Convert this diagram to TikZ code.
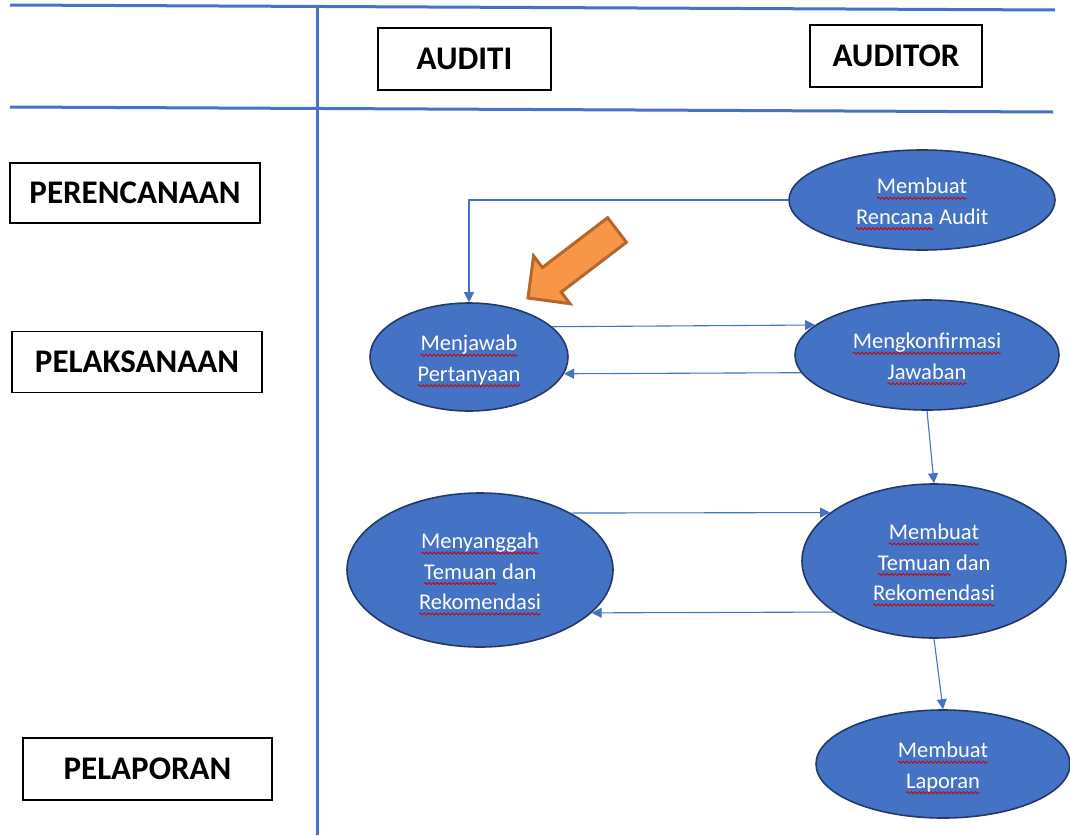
\documentclass[tikz,border=0pt]{standalone}
\usepackage{fontspec}
\setmainfont{Carlito}
\usetikzlibrary{shapes.geometric,arrows.meta,decorations.pathmorphing}
\definecolor{blu}{HTML}{4472C4}
\definecolor{blb}{HTML}{22396A}
\definecolor{org}{HTML}{F79646}
\definecolor{orb}{HTML}{B6652B}
\tikzset{sqword/.style={shape=rectangle, draw=none, fill=none, minimum width=0pt, minimum height=0pt, inner sep=0pt, outer sep=0pt, align=left, text=white}}
\newcommand\sq[1]{\tikz[baseline=(w.base), x=1pt, y=1pt]{\node[sqword] (w) {#1};
  \draw[red!80!black, line width=0.8pt, decorate, decoration={snake, amplitude=1.1pt, segment length=4pt}] ([yshift=-4.5pt]w.base west) -- ([yshift=-4.5pt]w.base east);}}
\begin{document}
\begin{tikzpicture}[x=1pt,y=-1pt,
 hdr/.style={draw=black, line width=1.2pt, fill=white, inner sep=0pt, font=\fontsize{33}{38}\selectfont\bfseries},
 proc/.style={ellipse, draw=blb, line width=1.6pt, fill=blu, inner sep=0pt, text=white, align=center, font=\fontsize{22.5}{30.5}\selectfont},
 grid/.style={blu, line width=3pt},
 conn/.style={blu, line width=1.1pt, -{Triangle[length=10pt,width=10pt]}}]
\useasboundingbox (0,0) rectangle (1070,835);
% grid lines
\draw[grid] (10,5) -- (1055,10);
\draw[grid] (10,107) -- (1053,112);
\draw[grid] (317,5) -- (317,835);
% header boxes
\node[hdr, minimum width=173pt, minimum height=62pt] (auditi) at (464.5,59) {AUDITI};
\node[hdr, minimum width=172pt, minimum height=62pt] (auditor) at (896,56) {AUDITOR};
\node[hdr, minimum width=250pt, minimum height=60pt] (per) at (135,193) {PERENCANAAN};
\node[hdr, minimum width=250pt, minimum height=61pt] (pel) at (137,362) {PELAKSANAAN};
\node[hdr, minimum width=249pt, minimum height=62pt] (lap) at (147.5,769) {PELAPORAN};
% process ellipses
\node[proc, minimum width=266pt, minimum height=100pt] (rencana) at (922,200) {\rule{0pt}{24pt}\sq{Membuat}\\\sq{Rencana} Audit};
\node[proc, minimum width=198pt, minimum height=108pt] (menjawab) at (469,357) {\rule{0pt}{24pt}\sq{Menjawab}\\\sq{Pertanyaan}};
\node[proc, minimum width=264pt, minimum height=110pt] (konf) at (927,355) {\rule{0pt}{24pt}\sq{Mengkonfirmasi}\\\sq{Jawaban}};
\node[proc, minimum width=266pt, minimum height=154pt] (sanggah) at (480,570) {\rule{0pt}{24pt}\sq{Menyanggah}\\\sq{Temuan} dan\\\sq{Rekomendasi}};
\node[proc, minimum width=264pt, minimum height=154pt] (temuan) at (934,561) {\rule{0pt}{24pt}\sq{Membuat}\\\sq{Temuan} dan\\\sq{Rekomendasi}};
\node[proc, minimum width=254pt, minimum height=108pt] (laporan) at (943,764) {\rule{0pt}{24pt}\sq{Membuat}\\\sq{Laporan}};
% connectors
\draw[conn] (rencana.west) -| (menjawab.north);
\draw[conn] (menjawab.20) -- (konf.165.5);
\draw[conn] (konf.188.9) -- (menjawab.350.5);
\draw[conn] (konf.south) -- (temuan.north);
\draw[conn] (sanggah.32.9) -- (temuan.155.2);
\draw[conn] (temuan.207.4) -- (sanggah.339.2);
\draw[conn] (temuan.south) -- (laporan.north);
% orange block arrow
\draw[fill=org, draw=orb, line width=3pt, line join=miter]
  (607.6,217.7) -- (542.4,267.5) -- (533.6,255.9) -- (528,298) -- (570,303.7) -- (561.2,292.1) -- (626.4,242.3) -- cycle;
\end{tikzpicture}
\end{document}
